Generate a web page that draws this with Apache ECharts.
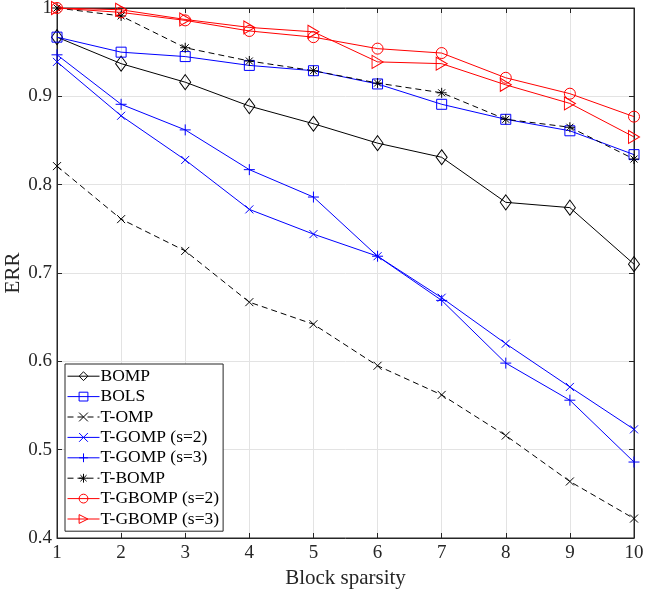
<!DOCTYPE html>
<html>
<head>
<meta charset="utf-8">
<script src="https://cdn.jsdelivr.net/npm/echarts@6/dist/echarts.min.js"></script>
<style>
html,body{margin:0;padding:0;background:#fff;}
#c1{width:647px;height:594px;}
</style>
</head>
<body>
<div id="c1"></div>
<script type="text/javascript">
// block sparsity K = 1..10
let sparsity = [1, 2, 3, 4, 5, 6, 7, 8, 9, 10]
let yTicks = ['0.4', '0.5', '0.6', '0.7', '0.8', '0.9', '1']

let bomp    = [0.967, 0.937, 0.916, 0.889, 0.869, 0.847, 0.831, 0.780, 0.774, 0.710]
let bols    = [0.967, 0.950, 0.945, 0.935, 0.929, 0.914, 0.891, 0.874, 0.861, 0.834]
let tomp    = [0.821, 0.761, 0.725, 0.667, 0.642, 0.595, 0.562, 0.516, 0.464, 0.422]
let tgomp2  = [0.939, 0.878, 0.828, 0.772, 0.744, 0.719, 0.672, 0.620, 0.571, 0.523]
let tgomp3  = [0.947, 0.891, 0.862, 0.817, 0.786, 0.719, 0.669, 0.598, 0.556, 0.486]
let tbomp   = [1.000, 0.991, 0.955, 0.940, 0.929, 0.915, 0.904, 0.874, 0.865, 0.829]
let tgbomp2 = [1.000, 0.995, 0.986, 0.974, 0.967, 0.954, 0.949, 0.921, 0.903, 0.877]
let tgbomp3 = [1.000, 0.998, 0.987, 0.978, 0.973, 0.939, 0.937, 0.913, 0.892, 0.854]

// matlab-ish marker shapes
let mkX    = 'path://M0,0L10,10M0,10L10,0'
let mkPlus = 'path://M5,0L5,10M0,5L10,5'
let mkStar = 'path://M5,0L5,10M0,5L10,5M1.5,1.5L8.5,8.5M1.5,8.5L8.5,1.5'
let mkTri  = 'path://M0,0L10,5L0,10Z'

function pairs(arr){
    return arr.map((v,i) => [sparsity[i], v])
}

function mkSeries(name, data, color, symbol, size, dashed){
    return {
        name: name,
        type: 'line',
        data: pairs(data),
        symbol: symbol,
        symbolSize: size,
        showAllSymbol: true,
        lineStyle: {color: color, width: 1, type: dashed ? [6, 4] : 'solid'},
        itemStyle: {color: 'transparent', borderColor: color, borderWidth: 1},
        emphasis: {disabled: true},
        animation: false
    }
}

let axisCol = '#262626'
let font = 'Liberation Serif'

let chart = echarts.init(document.getElementById('c1'))
let option = {
    backgroundColor: '#fff',
    textStyle: {fontFamily: font},
    grid: {left: 57, right: 13, top: 8, bottom: 56, outerBoundsMode: 'none', containLabel: false,
        show: true, borderColor: axisCol, borderWidth: 1},
    legend: {
        orient: 'vertical',
        left: 65,
        top: 364,
        padding: [2, 4, 2, 2],
        itemWidth: 32,
        itemHeight: 11,
        itemGap: 0,
        backgroundColor: '#fff',
        borderColor: axisCol,
        borderWidth: 1,
        borderRadius: 0,
        lineStyle: {width: 1},
        itemStyle: {borderWidth: 1},
        textStyle: {fontFamily: font, fontSize: 17.5, color: '#000', lineHeight: 20.4, padding: [0, 0, 0, -4]},
        data: ['BOMP', 'BOLS', 'T-OMP', 'T-GOMP (s=2)', 'T-GOMP (s=3)', 'T-BOMP', 'T-GBOMP (s=2)', 'T-GBOMP (s=3)']
    },
    xAxis: [{
        type: 'value', min: 1, max: 10, interval: 1,
        name: 'Block sparsity', nameLocation: 'middle', nameGap: 30, nameMoveOverlap: false,
        nameTextStyle: {fontFamily: font, fontSize: 21, color: axisCol},
        axisLine: {lineStyle: {color: axisCol}},
        axisTick: {inside: true, length: 5, lineStyle: {color: axisCol}},
        axisLabel: {fontFamily: font, fontSize: 19, color: axisCol, margin: 6},
        splitLine: {lineStyle: {color: '#e3e3e3'}}
    }, {
        type: 'value', min: 1, max: 10, interval: 1, position: 'top',
        axisLine: {lineStyle: {color: axisCol}},
        axisTick: {inside: true, length: 5, lineStyle: {color: axisCol}},
        axisLabel: {show: false},
        splitLine: {show: false}
    }],
    yAxis: [{
        type: 'value', min: 0.4, max: 1, interval: 0.1,
        name: 'ERR', nameLocation: 'middle', nameGap: 33, nameMoveOverlap: false,
        nameTextStyle: {fontFamily: font, fontSize: 21, color: axisCol},
        axisLine: {show: true, lineStyle: {color: axisCol}},
        axisTick: {show: true, inside: true, length: 5, lineStyle: {color: axisCol}},
        axisLabel: {fontFamily: font, fontSize: 19, color: axisCol, margin: 5,
            formatter: function(v){ return yTicks[Math.round((v - 0.4) * 10)] }},
        splitLine: {lineStyle: {color: '#e3e3e3'}}
    }, {
        type: 'value', min: 0.4, max: 1, interval: 0.1, position: 'right',
        axisLine: {show: true, lineStyle: {color: axisCol}},
        axisTick: {show: true, inside: true, length: 5, lineStyle: {color: axisCol}},
        axisLabel: {show: false},
        splitLine: {show: false}
    }],
    series: [
        mkSeries('BOMP', bomp, '#000', 'diamond', [11, 15], false),
        mkSeries('BOLS', bols, '#0000ff', 'rect', 10, false),
        mkSeries('T-OMP', tomp, '#000', mkX, 8, true),
        mkSeries('T-GOMP (s=2)', tgomp2, '#0000ff', mkX, 8, false),
        mkSeries('T-GOMP (s=3)', tgomp3, '#0000ff', mkPlus, 11, false),
        mkSeries('T-BOMP', tbomp, '#000', mkStar, 10, true),
        mkSeries('T-GBOMP (s=2)', tgbomp2, '#ff0000', 'circle', 11, false),
        mkSeries('T-GBOMP (s=3)', tgbomp3, '#ff0000', mkTri, [11, 13], false)
    ]
}
chart.setOption(option)
</script>
</body>
</html>
